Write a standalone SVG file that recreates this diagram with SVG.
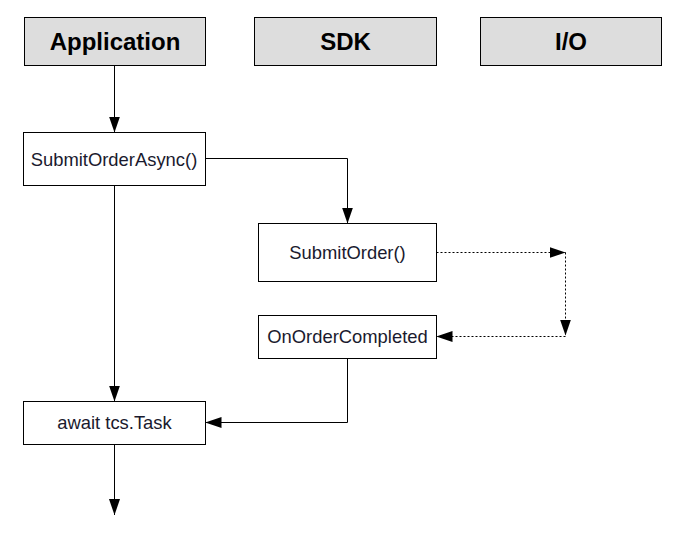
<svg xmlns="http://www.w3.org/2000/svg" width="684" height="534" viewBox="0 0 684 534">
<defs>
<style>
.hdr rect{fill:#dddddd;stroke:#000;stroke-width:1}
.hdr text{font-family:"Liberation Sans",Arial,sans-serif;font-size:24px;font-weight:bold;fill:#000;text-anchor:middle}
.box rect{fill:#fff;stroke:#000;stroke-width:1}
.box text{font-family:"Liberation Sans",Arial,sans-serif;font-size:18.4px;fill:#1a1a2e;text-anchor:middle}
.c{fill:none;stroke:#000;stroke-width:1;marker-end:url(#ah)}
.d{stroke-dasharray:2,2}
</style>
<marker id="ah" markerUnits="userSpaceOnUse" markerWidth="16" markerHeight="11" refX="16" refY="5.5" orient="auto">
<path d="M0,0 L16,5.5 L0,11 z" fill="#000"/>
</marker>
</defs>
<rect width="684" height="534" fill="#fff"/>
<g id="hdr-application" class="hdr"><rect x="24.5" y="17.5" width="181" height="48"/><text x="115" y="50">Application</text></g>
<g id="hdr-sdk" class="hdr"><rect x="254.5" y="17.5" width="182" height="48"/><text x="345.5" y="50">SDK</text></g>
<g id="hdr-io" class="hdr"><rect x="480.5" y="17.5" width="181" height="48"/><text x="571" y="50">I/O</text></g>
<g id="submit-order-async" class="box"><rect x="23.5" y="132.5" width="182" height="53"/><text x="114" y="165.5">SubmitOrderAsync()</text></g>
<g id="submit-order" class="box"><rect x="258.5" y="223.5" width="178" height="58"/><text x="347.5" y="258.5">SubmitOrder()</text></g>
<g id="on-order-completed" class="box"><rect x="258.5" y="315.5" width="178" height="43"/><text x="347.5" y="343">OnOrderCompleted</text></g>
<g id="await-task" class="box"><rect x="23.5" y="401.5" width="182" height="43"/><text x="114.5" y="429">await tcs.Task</text></g>
<g id="connectors">
<path class="c" d="M114.5,65.5 V132.5"/>
<path class="c" d="M205.5,158.5 H347.5 V223.5"/>
<path class="c" d="M114.5,185.5 V401.5"/>
<path class="c d" d="M436.5,252.5 H565.5"/>
<path class="c d" d="M565.5,252.5 V335.5"/>
<path class="c d" d="M565.5,336.5 H436.5"/>
<path class="c" d="M347.5,358.5 V422.5 H205.5"/>
<path class="c" d="M114.5,444.5 V515"/>
</g>
</svg>
